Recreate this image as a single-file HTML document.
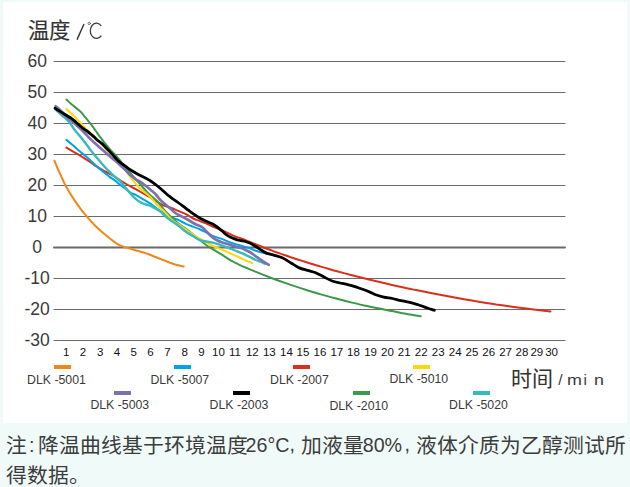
<!DOCTYPE html>
<html lang="zh-CN"><head><meta charset="utf-8">
<style>
*{margin:0;padding:0;box-sizing:border-box}
html,body{width:630px;height:487px;overflow:hidden;background:#F0FAF9;font-family:"Liberation Sans",sans-serif}
#box{position:absolute;left:3px;top:2px;width:624px;height:421px;background:#fff}
svg{position:absolute;left:0;top:0}
.yl{position:absolute;left:17.2px;width:40px;text-align:center;font-size:17.5px;line-height:20px;color:#3a3a3a}
.xl{position:absolute;top:345px;width:20px;text-align:center;font-size:11.5px;line-height:14px;color:#111}
.lb{position:absolute;width:17px;height:4px}
.lt{position:absolute;font-size:12.3px;line-height:12px;color:#3a3a3a;white-space:nowrap}
.t{position:absolute;white-space:nowrap;color:#333}
.nt{position:absolute;white-space:nowrap;font-size:20.8px;line-height:24px;color:#3c3c3c}
</style></head><body>
<div id="box"></div>
<svg width="630" height="487" viewBox="0 0 630 487" fill="none" stroke-linecap="round" stroke-linejoin="round">
<line x1="54" x2="565" y1="61.5" y2="61.5" stroke="#6a6a6a" stroke-width="1"/>
<line x1="54" x2="565" y1="92.5" y2="92.5" stroke="#6a6a6a" stroke-width="1"/>
<line x1="54" x2="565" y1="123.5" y2="123.5" stroke="#6a6a6a" stroke-width="1"/>
<line x1="54" x2="565" y1="154.5" y2="154.5" stroke="#6a6a6a" stroke-width="1"/>
<line x1="54" x2="565" y1="185.5" y2="185.5" stroke="#6a6a6a" stroke-width="1"/>
<line x1="54" x2="565" y1="216.5" y2="216.5" stroke="#6a6a6a" stroke-width="1"/>
<line x1="54" x2="565" y1="247.5" y2="247.5" stroke="#6a6a6a" stroke-width="2"/>
<line x1="54" x2="565" y1="278.5" y2="278.5" stroke="#6a6a6a" stroke-width="1"/>
<line x1="54" x2="565" y1="309.5" y2="309.5" stroke="#6a6a6a" stroke-width="1"/>
<line x1="54" x2="565" y1="340.5" y2="340.5" stroke="#6a6a6a" stroke-width="1"/>
<path d="M54.5 160.8 C55.2 162.6 57.7 168.5 59.0 171.5 C60.3 174.5 61.4 176.6 62.5 179.0 C63.6 181.4 64.1 183.0 65.8 186.1 C67.5 189.2 69.6 192.9 72.6 197.4 C75.6 201.9 80.1 208.5 83.9 213.2 C87.7 217.9 91.4 221.9 95.2 225.7 C99.0 229.5 103.0 232.9 106.5 235.8 C110.0 238.7 113.6 241.5 116.3 243.3 C119.0 245.1 120.6 245.6 122.7 246.4 C124.8 247.2 126.9 247.7 129.0 248.3 C131.1 248.9 132.2 249.2 135.4 250.2 C138.6 251.1 143.9 252.5 148.1 254.0 C152.3 255.5 156.6 257.4 160.8 259.1 C165.0 260.8 169.7 262.8 173.5 264.0 C177.3 265.2 182.0 266.1 183.7 266.5" stroke="#EF8719" stroke-width="2.0"/>
<path d="M66.4 147.6 C67.4 148.2 70.3 150.0 72.3 151.2 C74.3 152.4 76.5 153.4 78.5 154.6 C80.5 155.8 82.5 157.0 84.6 158.3 C86.6 159.6 88.7 161.1 90.8 162.5 C92.9 163.9 95.0 165.4 97.0 166.7 C99.0 168.0 101.0 169.3 103.1 170.4 C105.1 171.5 107.3 172.5 109.3 173.6 C111.3 174.7 113.4 175.8 115.2 177.0 C117.0 178.2 118.6 179.4 120.3 180.5 C122.0 181.6 123.7 182.5 125.4 183.5 C127.1 184.5 128.8 185.5 130.5 186.4 C132.2 187.3 134.0 188.2 135.7 189.1 C137.4 190.0 139.1 191.0 140.8 192.0 C142.5 193.0 144.2 194.0 145.9 195.0 C147.6 196.0 149.2 196.8 151.1 197.9 C152.9 199.0 154.8 200.5 157.0 201.8 C159.2 203.1 162.0 204.9 164.4 205.9 C166.8 206.9 169.1 207.1 171.5 208.0 C173.9 208.9 176.3 210.1 178.7 211.1 C181.1 212.1 183.5 213.0 185.9 214.2 C188.3 215.4 190.7 217.3 193.1 218.5 C195.5 219.7 197.9 220.2 200.3 221.2 C202.7 222.1 205.1 223.2 207.5 224.2 C209.9 225.2 212.3 226.4 214.7 227.4 C217.1 228.4 219.1 229.0 221.8 230.2 C224.6 231.4 228.6 233.5 231.2 234.7 C233.8 235.9 235.8 236.7 237.3 237.2 C238.8 237.7 236.9 236.8 240.0 238.0 C243.1 239.2 250.7 242.4 256.0 244.5 C261.3 246.6 266.7 248.7 272.0 250.6 C277.3 252.6 282.7 254.4 288.0 256.2 C293.3 258.1 298.7 259.8 304.0 261.5 C309.3 263.2 314.7 264.8 320.0 266.4 C325.3 268.0 330.7 269.5 336.0 271.0 C341.3 272.4 346.7 273.9 352.0 275.3 C357.3 276.6 362.7 278.0 368.0 279.3 C373.3 280.6 378.7 281.9 384.0 283.1 C389.3 284.3 394.7 285.5 400.0 286.7 C405.3 287.9 410.7 289.0 416.0 290.1 C421.3 291.2 426.7 292.3 432.0 293.3 C437.3 294.3 442.7 295.3 448.0 296.3 C453.3 297.3 458.7 298.2 464.0 299.2 C469.3 300.1 474.7 301.0 480.0 301.9 C485.3 302.7 490.7 303.5 496.0 304.4 C501.3 305.2 506.7 305.9 512.0 306.7 C517.3 307.4 522.7 308.1 528.0 308.8 C533.3 309.4 540.2 310.2 544.0 310.7 C547.8 311.1 549.4 311.3 550.5 311.4" stroke="#D93019" stroke-width="2.0"/>
<path d="M66.4 139.9 C67.4 140.7 70.3 143.1 72.3 144.8 C74.3 146.5 76.5 148.6 78.5 150.3 C80.5 152.1 82.5 153.6 84.6 155.3 C86.6 157.0 88.7 158.8 90.8 160.7 C92.9 162.6 95.0 164.9 97.0 166.7 C99.0 168.5 101.0 170.0 103.1 171.7 C105.1 173.3 107.2 175.1 109.3 176.6 C111.3 178.1 113.6 179.5 115.4 180.9 C117.2 182.3 118.6 183.7 120.3 185.0 C122.0 186.3 123.7 187.3 125.4 188.6 C127.1 189.9 128.8 191.6 130.5 192.6 C132.2 193.7 134.0 194.0 135.7 194.8 C137.4 195.7 139.1 196.9 140.8 197.9 C142.5 198.9 144.2 199.9 145.9 200.9 C147.6 201.9 149.2 202.7 151.1 204.0 C153.0 205.3 155.0 207.1 157.2 208.7 C159.4 210.3 162.0 212.3 164.4 213.7 C166.8 215.1 169.2 216.2 171.6 217.3 C174.0 218.4 176.3 219.1 178.7 220.2 C181.1 221.3 183.5 222.7 185.9 223.8 C188.3 224.9 190.7 225.7 193.1 226.6 C195.5 227.5 197.9 228.4 200.3 229.5 C202.7 230.6 205.1 231.9 207.5 233.1 C209.9 234.3 212.3 235.7 214.7 236.7 C217.1 237.7 219.1 237.9 221.8 238.9 C224.6 239.9 228.6 241.8 231.2 242.7 C233.8 243.6 235.2 244.0 237.3 244.6 C239.4 245.2 241.4 245.8 243.5 246.4 C245.6 247.0 247.6 247.6 249.7 248.3 C251.8 249.0 253.8 250.1 255.8 250.8 C257.9 251.5 259.9 252.1 262.0 252.6 C264.1 253.1 267.2 253.6 268.2 253.8" stroke="#00A3E8" stroke-width="2.0"/>
<path d="M66.4 99.6 C67.1 100.2 69.1 102.1 70.4 103.3 C71.8 104.5 73.1 105.5 74.5 106.6 C75.9 107.7 77.5 109.0 78.6 109.9 C79.7 110.9 80.0 111.1 81.1 112.3 C82.2 113.5 83.8 115.5 85.2 117.2 C86.6 118.9 87.8 120.3 89.3 122.2 C90.8 124.1 92.7 126.5 94.0 128.3 C95.3 130.1 96.1 131.5 97.3 133.2 C98.5 134.9 100.0 136.8 101.4 138.6 C102.8 140.4 104.1 142.2 105.5 143.9 C106.9 145.6 108.2 147.2 109.6 148.8 C111.0 150.4 112.3 151.8 113.7 153.3 C115.1 154.8 116.5 156.3 117.9 157.9 C119.3 159.5 120.7 161.1 122.0 162.8 C123.3 164.5 124.3 166.2 125.8 168.0 C127.3 169.8 129.4 171.9 130.9 173.6 C132.4 175.3 133.3 176.4 135.0 178.3 C136.7 180.2 139.0 182.9 140.8 185.0 C142.6 187.1 144.2 188.9 145.9 190.7 C147.6 192.5 149.2 194.2 151.1 196.0 C153.0 197.8 155.0 198.9 157.2 201.2 C159.4 203.6 162.0 207.4 164.4 210.1 C166.8 212.8 169.2 215.0 171.6 217.3 C174.0 219.6 176.3 221.9 178.7 223.8 C181.1 225.7 183.5 227.0 185.9 228.8 C188.3 230.6 190.7 232.6 193.1 234.5 C195.5 236.4 197.9 238.4 200.3 240.3 C202.7 242.2 205.1 244.3 207.5 246.0 C209.9 247.7 212.3 248.9 214.7 250.3 C217.1 251.8 219.1 253.0 221.8 254.7 C224.6 256.4 228.6 259.1 231.2 260.6 C233.8 262.1 235.8 262.9 237.3 263.7 C238.8 264.5 236.9 263.8 240.0 265.1 C243.1 266.5 250.7 269.7 256.0 271.9 C261.3 274.1 266.7 276.2 272.0 278.2 C277.3 280.2 282.7 282.1 288.0 283.9 C293.3 285.8 298.7 287.5 304.0 289.2 C309.3 290.9 314.7 292.5 320.0 294.1 C325.3 295.6 330.7 297.1 336.0 298.5 C341.3 299.9 346.7 301.3 352.0 302.6 C357.3 303.9 362.7 305.1 368.0 306.3 C373.3 307.4 378.7 308.6 384.0 309.6 C389.3 310.7 394.7 311.7 400.0 312.7 C405.3 313.7 412.6 314.9 416.0 315.5 C419.4 316.1 419.9 316.1 420.7 316.3" stroke="#3A9A49" stroke-width="2.0"/>
<path d="M66.3 109.0 C67.0 109.6 69.0 111.5 70.4 112.7 C71.8 113.9 73.1 115.0 74.5 116.4 C75.9 117.8 77.2 119.4 78.6 120.9 C80.0 122.4 81.3 124.0 82.7 125.5 C84.1 127.0 85.5 128.2 86.9 129.6 C88.3 131.0 89.7 132.4 91.0 133.7 C92.3 135.0 93.5 136.0 95.0 137.5 C96.5 139.0 98.2 140.7 100.0 142.5 C101.8 144.3 103.8 146.7 105.5 148.5 C107.2 150.3 109.0 151.9 110.5 153.5 C112.0 155.1 113.2 156.3 114.5 157.8 C115.8 159.3 117.0 161.0 118.2 162.4 C119.5 163.8 120.8 165.0 122.0 166.3 C123.2 167.6 124.0 168.2 125.4 170.0 C126.8 171.8 128.8 174.8 130.5 177.1 C132.2 179.4 134.0 181.9 135.7 183.9 C137.4 185.9 139.1 187.5 140.8 189.1 C142.5 190.7 144.2 191.9 145.9 193.3 C147.6 194.7 149.2 195.7 151.1 197.7 C153.0 199.6 155.0 202.7 157.2 205.0 C159.4 207.3 162.0 209.3 164.4 211.7 C166.8 214.1 169.2 217.3 171.6 219.4 C174.0 221.5 176.3 222.8 178.7 224.5 C181.1 226.2 183.5 227.8 185.9 229.5 C188.3 231.2 190.7 232.9 193.1 234.5 C195.5 236.1 197.9 237.5 200.3 238.9 C202.7 240.3 205.1 241.9 207.5 243.2 C209.9 244.5 212.3 245.7 214.7 246.8 C217.1 247.9 219.1 248.4 221.8 249.6 C224.6 250.8 228.6 252.7 231.2 253.8 C233.8 254.9 235.2 255.4 237.3 256.3 C239.4 257.2 241.0 258.3 243.5 259.4 C246.0 260.5 250.7 262.5 252.1 263.1" stroke="#FFD608" stroke-width="2.0"/>
<path d="M55.2 109.0 C56.4 110.1 60.4 113.9 62.2 115.6 C64.0 117.2 64.9 117.7 66.3 119.0 C67.7 120.3 69.0 121.7 70.4 123.5 C71.8 125.3 73.1 128.0 74.5 129.8 C75.9 131.6 77.4 133.2 78.6 134.6 C79.8 136.0 80.9 137.3 81.9 138.5 C82.9 139.7 83.4 140.4 84.6 142.0 C85.8 143.6 87.7 146.1 89.1 148.0 C90.5 149.9 91.8 151.8 93.2 153.5 C94.6 155.2 95.9 156.7 97.3 158.3 C98.7 159.9 100.1 161.5 101.4 163.0 C102.7 164.5 103.8 165.9 105.3 167.5 C106.8 169.1 108.8 171.0 110.4 172.6 C112.0 174.2 113.4 175.5 115.1 177.0 C116.8 178.5 118.6 179.8 120.3 181.6 C122.0 183.4 123.7 185.6 125.4 187.6 C127.1 189.6 128.8 191.8 130.5 193.7 C132.2 195.6 134.0 197.4 135.7 198.9 C137.4 200.4 139.1 201.6 140.8 202.5 C142.5 203.4 144.2 203.9 145.9 204.5 C147.6 205.1 149.4 205.3 151.1 206.1 C152.8 206.9 154.6 208.1 156.2 209.1 C157.8 210.1 159.4 210.7 160.8 211.8 C162.2 212.9 162.6 214.0 164.4 215.5 C166.2 217.0 169.2 219.2 171.6 220.9 C174.0 222.6 176.3 224.1 178.7 225.9 C181.1 227.7 183.5 230.0 185.9 231.7 C188.3 233.4 190.7 234.6 193.1 236.0 C195.5 237.4 197.9 239.4 200.3 240.3 C202.7 241.2 205.1 241.2 207.5 241.7 C209.9 242.2 212.3 242.6 214.7 243.2 C217.1 243.8 219.1 244.4 221.8 245.3 C224.6 246.2 228.6 247.9 231.2 248.9 C233.8 249.9 235.2 250.6 237.3 251.4 C239.4 252.2 241.4 252.9 243.5 253.8 C245.6 254.7 247.6 255.9 249.7 256.9 C251.8 257.9 253.8 259.1 255.8 260.0 C257.9 260.9 260.5 261.9 262.0 262.5 C263.5 263.1 264.5 263.6 265.0 263.8" stroke="#38BABC" stroke-width="2.4"/>
<path d="M55.6 106.2 C56.4 106.9 58.5 108.5 60.3 110.2 C62.1 111.9 64.7 115.0 66.4 116.6 C68.1 118.2 69.2 118.8 70.5 120.0 C71.8 121.2 73.2 122.3 74.5 123.5 C75.8 124.7 77.2 126.0 78.6 127.2 C80.0 128.4 81.3 129.6 82.7 131.0 C84.1 132.4 85.5 133.9 86.9 135.4 C88.3 136.8 89.7 138.3 91.0 139.6 C92.3 140.9 93.5 142.0 95.0 143.3 C96.5 144.6 98.2 146.1 100.0 147.7 C101.8 149.2 103.8 151.1 105.5 152.6 C107.2 154.1 108.4 155.1 110.0 156.4 C111.6 157.8 113.3 159.0 115.0 160.5 C116.7 161.9 118.3 163.4 120.0 165.0 C121.7 166.6 123.7 168.4 125.4 170.1 C127.2 171.8 128.8 173.8 130.5 175.3 C132.2 176.8 134.0 178.1 135.7 179.3 C137.4 180.4 139.1 181.1 140.8 182.2 C142.5 183.3 144.2 184.7 145.9 186.0 C147.6 187.3 149.3 188.8 151.0 190.2 C152.7 191.6 154.4 192.9 156.0 194.7 C157.6 196.4 159.1 198.7 160.8 200.4 C162.5 202.2 164.3 203.5 166.0 205.0 C167.7 206.5 169.4 207.9 171.1 209.3 C172.8 210.7 174.3 212.3 176.0 213.5 C177.7 214.7 179.6 215.4 181.3 216.3 C183.1 217.2 184.8 218.1 186.5 219.0 C188.2 219.9 189.9 221.0 191.6 222.0 C193.3 223.0 195.0 223.9 196.7 224.7 C198.4 225.5 200.2 225.8 201.9 227.0 C203.6 228.2 205.3 230.3 207.0 232.0 C208.7 233.7 210.4 235.6 212.1 237.0 C213.8 238.4 215.3 239.4 217.0 240.3 C218.7 241.2 220.2 241.8 222.4 242.5 C224.6 243.2 227.5 244.0 230.0 244.8 C232.5 245.6 235.1 246.4 237.3 247.1 C239.6 247.8 241.4 248.1 243.5 248.9 C245.6 249.7 247.6 250.8 249.7 252.0 C251.8 253.2 253.8 254.9 255.8 256.3 C257.9 257.7 259.8 259.2 262.0 260.6 C264.2 262.0 267.7 264.2 268.8 264.9" stroke="#7C71B0" stroke-width="2.7"/>
<path d="M55.1 108.3 C55.6 108.6 56.9 109.6 58.1 110.3 C59.3 111.0 60.8 111.9 62.2 112.7 C63.6 113.5 64.9 114.4 66.3 115.2 C67.7 116.0 69.0 116.8 70.4 117.7 C71.8 118.7 73.1 119.8 74.5 120.9 C75.9 122.1 77.2 123.4 78.6 124.6 C80.0 125.8 81.3 127.1 82.7 128.2 C84.1 129.2 85.5 130.0 86.9 131.0 C88.3 132.0 89.7 133.2 91.0 134.3 C92.3 135.4 94.0 136.8 95.0 137.8 C96.0 138.8 96.2 139.2 97.3 140.1 C98.4 141.0 100.0 141.9 101.4 143.1 C102.8 144.3 104.1 145.8 105.5 147.2 C106.9 148.6 108.2 149.9 109.6 151.4 C111.0 152.9 112.3 154.4 113.7 155.9 C115.1 157.5 116.4 159.1 117.9 160.5 C119.4 161.9 121.2 163.2 122.5 164.2 C123.8 165.2 124.4 165.5 125.8 166.5 C127.2 167.5 129.0 168.9 130.7 170.0 C132.4 171.1 134.3 172.2 136.0 173.2 C137.7 174.2 139.2 175.0 140.8 175.8 C142.5 176.7 144.2 177.4 145.9 178.3 C147.6 179.2 149.3 180.1 151.0 181.2 C152.7 182.3 154.5 183.7 156.2 185.0 C157.9 186.3 159.4 187.6 161.0 189.0 C162.6 190.4 164.3 192.0 166.0 193.5 C167.7 195.0 169.3 196.2 171.4 197.8 C173.5 199.4 176.3 201.2 178.7 203.0 C181.1 204.8 183.5 206.5 185.9 208.3 C188.3 210.1 190.6 212.0 193.0 213.7 C195.4 215.4 198.1 217.2 200.5 218.5 C202.9 219.8 205.1 220.7 207.5 221.8 C209.9 222.9 212.3 223.7 214.7 225.2 C217.1 226.7 219.9 229.1 221.8 230.7 C223.7 232.2 224.4 233.3 226.0 234.5 C227.6 235.7 229.3 236.7 231.2 237.6 C233.1 238.5 235.2 239.4 237.3 239.9 C239.4 240.5 241.4 240.5 243.5 241.0 C245.6 241.5 247.6 242.1 249.7 243.0 C251.8 243.9 253.8 245.2 255.8 246.5 C257.9 247.8 260.2 249.4 262.0 250.5 C263.8 251.6 264.3 252.3 266.4 253.1 C268.5 253.9 271.8 254.5 274.5 255.3 C277.2 256.1 280.1 256.7 282.8 258.0 C285.6 259.3 288.2 261.4 291.0 263.0 C293.8 264.6 296.6 266.7 299.3 267.9 C302.1 269.1 304.8 269.6 307.5 270.4 C310.2 271.2 313.0 271.7 315.7 272.8 C318.4 273.9 321.2 275.5 323.9 276.9 C326.6 278.3 329.4 280.0 332.1 281.0 C334.8 282.0 337.5 282.4 340.3 283.0 C343.1 283.6 345.8 284.1 348.7 284.9 C351.6 285.6 354.6 286.6 357.5 287.5 C360.4 288.4 363.3 289.3 366.2 290.5 C369.1 291.7 372.0 293.4 374.9 294.5 C377.8 295.6 380.8 296.4 383.7 297.1 C386.6 297.8 389.5 297.9 392.4 298.5 C395.3 299.1 398.2 300.0 401.1 300.6 C404.0 301.2 406.9 301.7 409.8 302.4 C412.7 303.1 415.7 304.1 418.6 305.0 C421.5 305.9 424.7 307.1 427.3 308.0 C429.9 308.9 433.1 309.8 434.3 310.2" stroke="#000000" stroke-width="2.8"/>
<path d="M84.0 24.0 L77.0 39.6" stroke="#333" stroke-width="1.4" stroke-linecap="butt"/>
<circle cx="89.2" cy="23.5" r="1.2" stroke="#555" stroke-width="0.8"/>
<path d="M101.3 26.0 A6.2 7.6 0 1 0 101.3 35.6" stroke="#3a3a3a" stroke-width="1.3" stroke-linecap="butt"/>
</svg>
<div class="t" style="left:28px;top:18px;font-size:21.3px;line-height:26px;-webkit-text-stroke:0.15px #333">温度</div>
<div class="yl" style="top:51.0px">60</div><div class="yl" style="top:82.0px">50</div><div class="yl" style="top:113.0px">40</div><div class="yl" style="top:144.0px">30</div><div class="yl" style="top:175.0px">20</div><div class="yl" style="top:206.0px">10</div><div class="yl" style="top:237.0px">0</div><div class="yl" style="top:268.0px">-10</div><div class="yl" style="top:299.0px">-20</div><div class="yl" style="top:330.0px">-30</div>
<div class="xl" style="left:56.1px">1</div><div class="xl" style="left:73.0px">2</div><div class="xl" style="left:90.2px">3</div><div class="xl" style="left:107.0px">4</div><div class="xl" style="left:123.7px">5</div><div class="xl" style="left:140.5px">6</div><div class="xl" style="left:157.5px">7</div><div class="xl" style="left:174.6px">8</div><div class="xl" style="left:191.5px">9</div><div class="xl" style="left:208.5px">10</div><div class="xl" style="left:225.0px">11</div><div class="xl" style="left:242.3px">12</div><div class="xl" style="left:259.3px">13</div><div class="xl" style="left:276.5px">14</div><div class="xl" style="left:293.0px">15</div><div class="xl" style="left:309.9px">16</div><div class="xl" style="left:326.8px">17</div><div class="xl" style="left:343.5px">18</div><div class="xl" style="left:360.6px">19</div><div class="xl" style="left:377.4px">20</div><div class="xl" style="left:394.2px">21</div><div class="xl" style="left:411.2px">22</div><div class="xl" style="left:428.2px">23</div><div class="xl" style="left:445.2px">24</div><div class="xl" style="left:461.9px">25</div><div class="xl" style="left:478.7px">26</div><div class="xl" style="left:495.6px">27</div><div class="xl" style="left:512.0px">28</div><div class="xl" style="left:526.8px">29</div><div class="xl" style="left:541.6px">30</div>
<div class="lb" style="left:54px;top:365px;background:#EF8719"></div><div class="lt" style="left:27.1px;top:374.2px">DLK -5001</div><div class="lb" style="left:174px;top:365px;background:#00A3E8"></div><div class="lt" style="left:150.4px;top:374.2px">DLK -5007</div><div class="lb" style="left:293px;top:365px;background:#D93019"></div><div class="lt" style="left:270.0px;top:374.2px">DLK -2007</div><div class="lb" style="left:413px;top:365px;background:#FFD608"></div><div class="lt" style="left:389.4px;top:373.0px">DLK -5010</div><div class="lb" style="left:114px;top:391px;background:#7C71B0"></div><div class="lt" style="left:90.4px;top:399.2px">DLK -5003</div><div class="lb" style="left:233px;top:391px;background:#000000"></div><div class="lt" style="left:209.6px;top:399.2px">DLK -2003</div><div class="lb" style="left:353px;top:391px;background:#3A9A49"></div><div class="lt" style="left:329.4px;top:400.2px">DLK -2010</div><div class="lb" style="left:473px;top:391px;background:#38BABC"></div><div class="lt" style="left:449.1px;top:399.2px">DLK -5020</div>
<div class="t" style="left:511px;top:365.5px;font-size:21px;line-height:26px;-webkit-text-stroke:0.05px #333">时间</div>
<div class="t" style="left:558.3px;top:370px;font-size:15.4px;line-height:20px;color:#3a3a3a;">/</div><div class="t" style="left:567.0px;top:370px;font-size:15.4px;line-height:20px;color:#3a3a3a;transform:scaleX(1.16);transform-origin:0 0;">m</div><div class="t" style="left:583.4px;top:370px;font-size:15.4px;line-height:20px;color:#3a3a3a;">i</div><div class="t" style="left:594.0px;top:370px;font-size:15.4px;line-height:20px;color:#3a3a3a;transform:scaleX(1.16);transform-origin:0 0;">n</div>
<span class="nt" style="left:5.9px;top:434.0px;">注</span><span class="nt" style="left:28.9px;top:434.0px;font-size:19.7px;margin-top:-1.3px">:</span><span class="nt" style="left:37.5px;top:434.0px;">降温曲线基于环境温度</span><span class="nt" style="left:245.6px;top:434.0px;font-size:19.7px;margin-top:-1.3px">26°C</span><span class="nt" style="left:289.6px;top:434.0px;font-size:19.7px;margin-top:-2.5px">,</span><span class="nt" style="left:301.4px;top:434.0px;">加液量</span><span class="nt" style="left:362.7px;top:434.0px;font-size:19.7px;margin-top:-1.3px">80%</span><span class="nt" style="left:404.6px;top:434.0px;font-size:19.7px;margin-top:-2.5px">,</span><span class="nt" style="left:416.4px;top:434.0px;">液体介质为乙醇测试所</span><span class="nt" style="left:5.6px;top:464.0px;">得数据。</span>
</body></html>
